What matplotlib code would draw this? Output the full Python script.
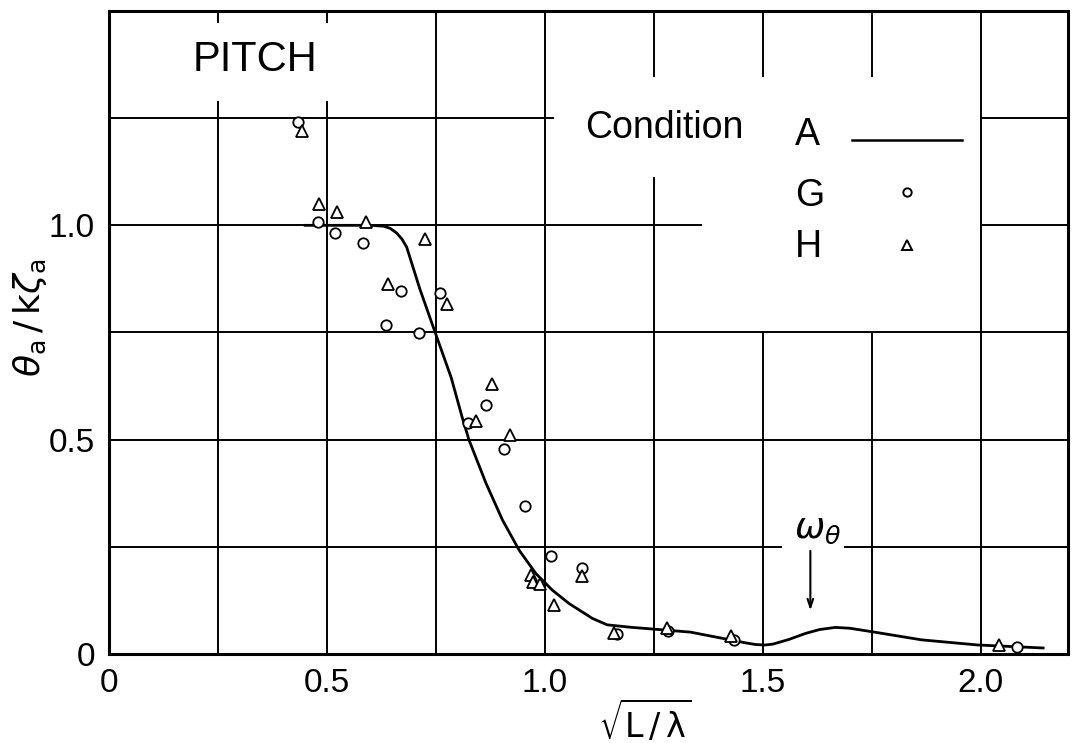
import matplotlib
matplotlib.use("Agg")
import matplotlib.pyplot as plt

# condition A: smooth curve
a_x = [0.45, 0.55, 0.60, 0.63, 0.645, 0.66, 0.672, 0.683, 0.713, 0.75, 0.785,
       0.81, 0.826, 0.865, 0.903, 0.941, 0.979, 1.017, 1.055, 1.109, 1.143, 1.20,
       1.25, 1.334, 1.425, 1.46, 1.484, 1.505, 1.523, 1.56, 1.598, 1.63, 1.666,
       1.70, 1.75, 1.864, 1.993, 2.143]
a_y = [1.0, 1.0, 1.0, 0.998, 0.993, 0.982, 0.968, 0.949, 0.852, 0.745, 0.645,
       0.553, 0.499, 0.398, 0.312, 0.242, 0.188, 0.149, 0.118, 0.083, 0.068, 0.062,
       0.058, 0.051, 0.033, 0.026, 0.022, 0.021, 0.023, 0.034, 0.048, 0.057, 0.062,
       0.060, 0.052, 0.033, 0.021, 0.014]

# condition G: circles
g_x = [0.433, 0.479, 0.518, 0.583, 0.635, 0.669, 0.712, 0.759, 0.823, 0.866,
       0.907, 0.954, 1.015, 1.084, 1.165, 1.282, 1.434, 2.082]
g_y = [1.242, 1.007, 0.983, 0.959, 0.768, 0.846, 0.748, 0.841, 0.540, 0.582,
       0.478, 0.345, 0.228, 0.201, 0.046, 0.054, 0.033, 0.017]

# condition H: triangles
h_x = [0.442, 0.482, 0.522, 0.589, 0.641, 0.725, 0.775, 0.841, 0.879, 0.920,
       0.969, 0.973, 0.989, 1.021, 1.086, 1.159, 1.280, 1.427, 2.041]
h_y = [1.219, 1.049, 1.030, 1.008, 0.864, 0.967, 0.816, 0.544, 0.631, 0.510,
       0.184, 0.169, 0.163, 0.114, 0.182, 0.048, 0.061, 0.042, 0.021]

x_ticks = [0, 0.5, 1.0, 1.5, 2.0]
x_tick_labels = ["0", "0.5", "1.0", "1.5", "2.0"]
y_ticks = [0, 0.5, 1.0]
y_tick_labels = ["0", "0.5", "1.0"]

LW_GRID = 1.4
tick_font = dict(family="Liberation Sans", size=24)
legend_font = dict(family="Liberation Sans", size=27)

fig = plt.figure(figsize=(10.78, 7.43), dpi=100)
ax = fig.add_axes([0.1011, 0.1198, 0.8896, 0.8654])
ax.set_xlim(0, 2.2)
ax.set_ylim(0, 1.5)

for s in ax.spines.values():
    s.set_linewidth(2.2)

# hand-drawn style grid with gaps around the annotations
hsegs = [(0.25, 0, 1.545), (0.25, 1.686, 2.2), (0.5, 0, 2.2), (0.75, 0, 2.2),
         (1.0, 0, 1.36), (1.0, 2.0, 2.2), (1.25, 0, 1.02), (1.25, 2.0, 2.2)]
for y, x0, x1 in hsegs:
    ax.hlines(y, x0, x1, color="black", lw=LW_GRID)
vsegs = [(0.25, 0, 1.291), (0.25, 1.471, 1.5), (0.5, 0, 1.291), (0.5, 1.471, 1.5),
         (0.75, 0, 1.5), (1.0, 0, 1.5), (1.25, 0, 1.112), (1.25, 1.345, 1.5),
         (1.5, 0, 0.75), (1.5, 1.345, 1.5), (1.75, 0, 0.75), (1.75, 1.345, 1.5),
         (2.0, 0, 1.5)]
for x, y0, y1 in vsegs:
    ax.vlines(x, y0, y1, color="black", lw=LW_GRID)

ax.plot(a_x, a_y, color="black", lw=2.0)
ax.plot(g_x, g_y, "o", ms=7.5, mfc="white", mec="black", mew=1.3)
ax.plot(h_x, h_y, "^", ms=8.5, mfc="white", mec="black", mew=1.3)

ax.set_xticks(x_ticks)
ax.set_xticklabels(x_tick_labels, fontdict=tick_font)
ax.set_yticks(y_ticks)
ax.set_yticklabels(y_tick_labels, fontdict=tick_font)
ax.tick_params(length=0, pad=10)

# legend drawn by hand
ax.text(0.193, 1.385, "PITCH", family="Liberation Sans", size=30, va="center")
ax.text(1.092, 1.228, "Condition", va="center", **legend_font)
ax.text(1.573, 1.210, "A", va="center", **legend_font)
ax.text(1.573, 1.068, "G", va="center", **legend_font)
ax.text(1.573, 0.949, "H", va="center", **legend_font)
ax.plot([1.704, 1.956], [1.198, 1.198], color="black", lw=1.8)
ax.plot([1.830], [1.077], "o", ms=6, mfc="white", mec="black", mew=1.4)
ax.plot([1.830], [0.953], "^", ms=7, mfc="white", mec="black", mew=1.4)

# omega_theta marker
ax.annotate("", xy=(1.609, 0.095), xytext=(1.609, 0.247),
            arrowprops=dict(arrowstyle="->,head_width=0.2,head_length=0.6",
                            color="black", lw=1.5))
ax.text(1.572, 0.27, r"$\omega_\theta$", size=26, va="baseline")

fig.text(30 / 1078, 1 - 318 / 743, r"$\theta_\mathrm{a}\,/\,\mathrm{k}\zeta_\mathrm{a}$",
         size=26, rotation=90, ha="center", va="center")
fig.text(645 / 1078, 1 - 722 / 743, r"$\sqrt{\mathrm{L\,/\,\lambda}}$", size=24,
         ha="center", va="center")

fig.savefig("out.png", dpi=100)
